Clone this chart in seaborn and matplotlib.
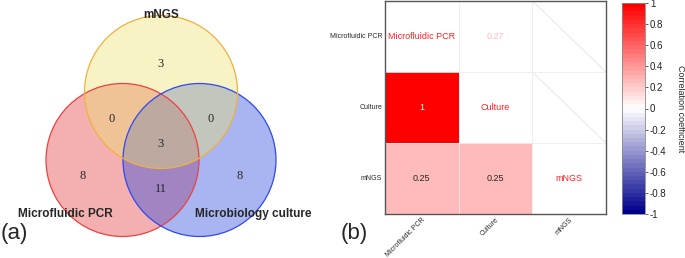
import numpy as np
import pandas as pd
import seaborn as sns
import matplotlib
matplotlib.use('Agg')
import matplotlib.pyplot as plt
from matplotlib.colors import LinearSegmentedColormap, Normalize
from matplotlib.patches import Circle

# Venn counts, one per region; membership flags are (PCR, culture, mNGS)
set_names = ['Microfluidic PCR', 'Microbiology culture', 'mNGS']
region_members = [(0, 0, 1), (1, 0, 1), (0, 1, 1), (1, 1, 1), (1, 0, 0), (1, 1, 0), (0, 1, 0)]
region_counts = [3, 0, 0, 3, 8, 11, 8]

# correlation panel
methods = ['Microfluidic PCR', 'Culture', 'mNGS']
corr_vals = [[np.nan, 0.27, np.nan],
             [1.0, np.nan, np.nan],
             [0.25, 0.25, np.nan]]
cbar_ticks = [-1, -0.8, -0.6, -0.4, -0.2, 0, 0.2, 0.4, 0.6, 0.8, 1]

sns.set_style('white')
plt.rcParams['font.family'] = ['Liberation Sans', 'DejaVu Sans']

W, H = 685, 258
fig = plt.figure(figsize=(W / 100, H / 100), dpi=100)

# ---- (a) Venn diagram, axes units are pixels ----
ax_v = fig.add_axes([0, 0, 340 / W, 1])
ax_v.set_xlim(0, 340)
ax_v.set_ylim(H, 0)
ax_v.axis('off')

r = 76.5
centers = [(122.5, 160), (199.5, 160), (161, 92)]
fills = ['#E43A3A', '#2646DE', '#EBE170']
edges = ['#EE4040', '#3048EE', '#F0B040']
for (cx, cy), fc in zip(centers, fills):
    ax_v.add_patch(Circle((cx, cy), r, facecolor=fc, alpha=0.4, edgecolor='none'))
for (cx, cy), ec in zip(centers, edges):
    ax_v.add_patch(Circle((cx, cy), r, facecolor='none', edgecolor=ec, lw=0.9))

# count labels: centroid of each region, then nudged the way VennDiagram places them
gx, gy = np.meshgrid(np.linspace(0, 340, 681), np.linspace(0, H, 517))
inside = [((gx - cx) ** 2 + (gy - cy) ** 2) < r ** 2 for cx, cy in centers]
for memb, cnt in zip(region_members, region_counts):
    m = np.ones_like(gx, dtype=bool)
    for flag, ins in zip(memb, inside):
        m &= ins if flag else ~ins
    px, py = gx[m].mean(), gy[m].mean()
    side = memb[1] - memb[0]          # -1 left, +1 right, 0 centre
    if memb[2]:
        px += 5 * side
        py += 7
    elif sum(memb) == 1:
        px += 9 * side
        py -= 2
    ax_v.text(px, py, str(cnt), ha='center', va='center',
              fontsize=9, family='Liberation Serif')

ax_v.text(65, 214, set_names[0], ha='center', va='center', fontsize=8.5, fontweight='bold')
ax_v.text(253, 214, set_names[1], ha='center', va='center', fontsize=8.5, fontweight='bold')
ax_v.text(161, 15, set_names[2], ha='center', va='center', fontsize=8.5, fontweight='bold')
ax_v.text(1, 233, '(a)', ha='left', va='center', fontsize=16)

# ---- (b) correlation heatmap ----
ax_h = fig.add_axes([385 / W, 44 / H, 221 / W, 213 / H])
cax = fig.add_axes([622 / W, 44 / H, 23 / W, 211 / H])
cmap = LinearSegmentedColormap.from_list('corr', ['#00008B', '#FFFFFF', '#FF0000'], N=50)
norm = Normalize(-1, 1)

df = pd.DataFrame(corr_vals, index=methods, columns=methods)
n = len(methods)
upper_mask = np.triu(np.ones((n, n), dtype=bool))
sns.heatmap(df, mask=upper_mask, cmap=cmap, vmin=-1, vmax=1, annot=True, fmt='.2g',
            annot_kws={'size': 6.5}, ax=ax_h, cbar_ax=cax)

for i in range(n):
    ax_h.text(i + 0.5, i + 0.5, methods[i], ha='center', va='center', color='#FF2020', fontsize=6.5)
    for j in range(i + 1, n):
        v = df.iloc[i, j]
        if np.isnan(v):
            ax_h.plot([j, j + 1], [i, i + 1], color='#e4e4e4', lw=0.6)
        else:
            ax_h.text(j + 0.5, i + 0.5, f'{v:.2g}', ha='center', va='center',
                      color=cmap(norm(v)), fontsize=6.5)
for k in range(1, n):
    ax_h.axhline(k, color='#ececec', lw=0.6)
    ax_h.axvline(k, color='#ececec', lw=0.6)

for s in ax_h.spines.values():
    s.set_visible(True)
    s.set_color('#555555')
    s.set_linewidth(1)
ax_h.tick_params(length=0, labelsize=5, pad=2)
plt.setp(ax_h.get_yticklabels(), rotation=0)
plt.setp(ax_h.get_xticklabels(), rotation=45, ha='right', rotation_mode='anchor')

cbar = ax_h.collections[0].colorbar
cbar.set_ticks(cbar_ticks)
cbar.set_ticklabels([f'{t:g}' for t in cbar_ticks])
cbar.outline.set_edgecolor('#888888')
cbar.outline.set_linewidth(0.6)
cbar.ax.tick_params(labelsize=7, length=2, width=0.5, colors='#222222', pad=1.5)
cbar.set_label('Correlation coefficient', rotation=270, labelpad=13, fontsize=6.5)

fig.text(341 / W, 1 - 233 / H, '(b)', ha='left', va='center', fontsize=16)

fig.savefig('out.png', dpi=100)
